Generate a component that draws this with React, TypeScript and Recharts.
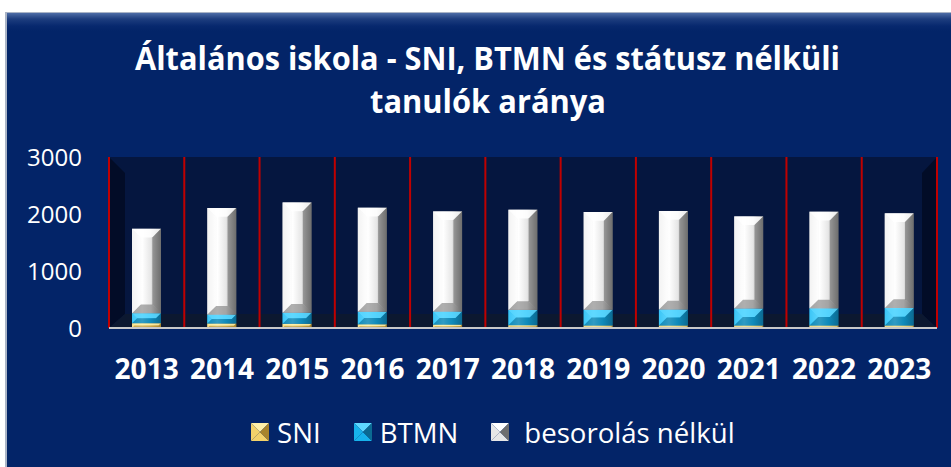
import React from 'react';
import { BarChart, Bar, XAxis, YAxis, CartesianGrid, Legend } from 'recharts';

const years = ['2013', '2014', '2015', '2016', '2017', '2018', '2019', '2020', '2021', '2022', '2023'];
const sni = [85, 80, 75, 65, 60, 50, 45, 45, 45, 45, 45];
const btmn = [175, 155, 193, 220, 228, 267, 275, 280, 298, 300, 305];
const nelkul = [1480, 1870, 1935, 1825, 1758, 1758, 1715, 1728, 1615, 1695, 1661];
const yTicks = [0, 1000, 2000, 3000];

const data = years.map((year, i) => ({ year, sni: sni[i], btmn: btmn[i], nelkul: nelkul[i] }));

const palette = {
  sni: { light: '#fff0a8', mid: '#f3d26a', dark: '#a8842c' },
  btmn: { light: '#5fd8ff', mid: '#17b3ec', dark: '#0b6a92' },
  nelkul: { light: '#ffffff', mid: '#e6e6e6', dark: '#6e6e6e' },
};

const legendItems = [
  { key: 'sni', name: 'SNI', gap: 8 },
  { key: 'btmn', name: 'BTMN', gap: 8 },
  { key: 'nelkul', name: 'besorolás nélkül', gap: 15 },
];

const makeBevel = (key: 'sni' | 'btmn' | 'nelkul') => (props: any) => {
  const { x, y, width, height } = props;
  if (!height || height <= 0) return <g />;
  const c = palette[key];
  const b = Math.min(width * 0.3, height / 2, 10);
  const r = x + width;
  const btm = y + height;
  return (
    <g>
      <rect x={x} y={y} width={width} height={height} fill={`url(#grad-${key})`} />
      <polygon points={`${x},${y} ${r},${y} ${r - b},${y + b} ${x + b},${y + b}`} fill={c.light} opacity={0.85} />
      <polygon points={`${x},${btm} ${r},${btm} ${r - b},${btm - b} ${x + b},${btm - b}`} fill={c.dark} opacity={0.55} />
      <polygon points={`${x},${y} ${x + b},${y + b} ${x + b},${btm - b} ${x},${btm}`} fill={c.light} opacity={0.5} />
      <polygon points={`${r},${y} ${r - b},${y + b} ${r - b},${btm - b} ${r},${btm}`} fill={c.dark} opacity={0.6} />
    </g>
  );
};

const LegendIcon = ({ k }: { k: 'sni' | 'btmn' | 'nelkul' }) => {
  const c = palette[k];
  return (
    <svg width={18} height={18} style={{ display: 'block' }}>
      <polygon points="0,0 18,0 9,9" fill={c.light} />
      <polygon points="0,18 18,18 9,9" fill={c.mid} />
      <polygon points="0,0 9,9 0,18" fill={c.mid} />
      <polygon points="18,0 9,9 18,18" fill={c.dark} />
    </svg>
  );
};

const renderLegend = () => (
  <div style={{ display: 'flex', alignItems: 'center', height: 30, fontFamily: 'Open Sans', fontSize: 27.6, color: '#fff', lineHeight: '30px' }}>
    {legendItems.map((it) => (
      <div key={it.key} style={{ display: 'flex', alignItems: 'center', marginRight: 33 }}>
        <LegendIcon k={it.key as any} />
        <span style={{ marginLeft: it.gap, whiteSpace: 'nowrap' }}>{it.name}</span>
      </div>
    ))}
  </div>
);

const boundaryLines = ({ offset }: any) => {
  const n = years.length;
  const out: number[] = [];
  for (let i = 0; i <= n; i++) out.push(offset.left + (offset.width * i) / n);
  return out;
};

export default function App() {
  return (
    <div style={{ position: 'absolute', left: 0, top: 0, width: 951, height: 467, background: '#fff', overflow: 'hidden' }}>
      <div
        style={{
          position: 'absolute',
          left: 5,
          top: 12,
          width: 950,
          height: 460,
          borderLeft: '2px solid #aab4c6',
          borderTop: '1px solid #aab4c6',
          background: 'linear-gradient(#4d6ca6 0px, #1d3d7e 6px, #07286e 13px, #032468 18px, #032468 100%)',
        }}
      />
      <svg width={951} height={467} style={{ position: 'absolute', left: 0, top: 0 }}>
        <rect x={109} y={157} width={828} height={171} fill="#05163f" />
        <polygon points="109,157 125,173 125,314 109,328" fill="#020c27" />
        <polygon points="937,157 922,173 922,314 937,328" fill="#020c27" />
        <polygon points="109,328 125,314 922,314 937,328" fill="#0c1830" />
      </svg>
      <svg width={951} height={140} style={{ position: 'absolute', left: 0, top: 0 }}>
        <text x={135} y={70} fill="#fff" fontFamily="Open Sans" fontWeight={700} fontSize={33} textLength={705} lengthAdjust="spacingAndGlyphs">
          Általános iskola - SNI, BTMN és státusz nélküli
        </text>
        <text x={370} y={113} fill="#fff" fontFamily="Open Sans" fontWeight={700} fontSize={33} textLength={236} lengthAdjust="spacingAndGlyphs">
          tanulók aránya
        </text>
      </svg>
      <div style={{ position: 'absolute', left: 0, top: 0 }}>
        <BarChart width={951} height={467} data={data} barSize={29} margin={{ top: 157, right: 14, left: 9, bottom: 49 }}>
          <defs>
            {(['sni', 'btmn', 'nelkul'] as const).map((k) => (
              <linearGradient key={k} id={`grad-${k}`} x1="0" y1="0" x2="1" y2="0">
                <stop offset="0%" stopColor={palette[k].mid} />
                <stop offset="35%" stopColor={palette[k].light} />
                <stop offset="65%" stopColor={palette[k].mid} />
                <stop offset="100%" stopColor={palette[k].dark} />
              </linearGradient>
            ))}
          </defs>
          <CartesianGrid horizontal={false} stroke="#c00000" strokeWidth={2} verticalCoordinatesGenerator={boundaryLines} />
          <XAxis
            dataKey="year"
            height={60}
            tickLine={false}
            tickSize={0}
            tickMargin={31}
            axisLine={{ stroke: '#c8c8c8', strokeWidth: 2 }}
            tick={{ fill: '#fff', fontFamily: 'Open Sans', fontWeight: 700, fontSize: 28 }}
            interval={0}
          />
          <YAxis
            width={100}
            domain={[0, 3000]}
            ticks={yTicks}
            axisLine={false}
            tickLine={false}
            tickSize={0}
            tickMargin={27}
            tick={{ fill: '#fff', fontFamily: 'Open Sans', fontSize: 24 }}
          />
          <Legend verticalAlign="bottom" content={renderLegend} wrapperStyle={{ left: 251, top: 417, width: 620, height: 30 }} />
          <Bar dataKey="sni" name="SNI" stackId="a" fill={palette.sni.mid} shape={makeBevel('sni')} isAnimationActive={false} />
          <Bar dataKey="btmn" name="BTMN" stackId="a" fill={palette.btmn.mid} shape={makeBevel('btmn')} isAnimationActive={false} />
          <Bar dataKey="nelkul" name="besorolás nélkül" stackId="a" fill={palette.nelkul.mid} shape={makeBevel('nelkul')} isAnimationActive={false} />
        </BarChart>
      </div>
    </div>
  );
}
